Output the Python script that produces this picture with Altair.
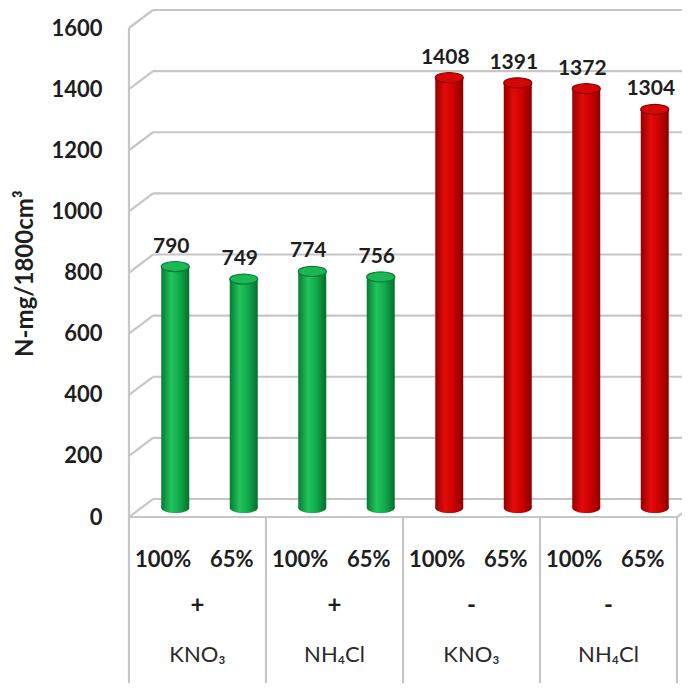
import altair as alt
import pandas as pd

# ---------------- data ----------------
bar_ids = ["b1", "b2", "b3", "b4", "b5", "b6", "b7", "b8"]
dose_labels = ["100%", "65%", "100%", "65%", "100%", "65%", "100%", "65%"]
values = [790, 749, 774, 756, 1408, 1391, 1372, 1304]
bar_group = ["green", "green", "green", "green", "red", "red", "red", "red"]
group_first = ["b1", "b3", "b5", "b7"]
signs = ["+", "+", "-", "-"]
compounds = ["KNO₃", "NH₄Cl", "KNO₃", "NH₄Cl"]
y_ticks = [0, 200, 400, 600, 800, 1000, 1200, 1400, 1600]
y_title = "N-mg/1800cm³"

bars = pd.DataFrame({"id": bar_ids, "v": values, "zero": [0] * 8,
                     "grp": bar_group, "dose": dose_labels})
groups = pd.DataFrame({"id": group_first, "sign": signs, "comp": compounds})
grid = pd.DataFrame({"v": y_ticks})
floor = pd.DataFrame({"v": [0]})
top = pd.DataFrame({"v": [1600]})
inner_bounds = pd.DataFrame({"id": ["b3", "b5", "b7"], "v": [0, 0, 0]})
end_bound = pd.DataFrame({"id": ["b8"], "v": [0]})

# ---------------- styling ----------------
W, H = 553, 673
GRID = "#c6c6c6"
FONT = "Lato"
TXT = "#1e1e1e"

yscale = alt.Scale(domain=[-543.1, 1658.9], nice=False, zero=False)
xscale = alt.Scale(domain=bar_ids, range=[0, 548], paddingInner=0, paddingOuter=0)
yaxis = alt.Axis(values=y_ticks, format="d", grid=False, domain=False, ticks=False,
                 labelPadding=27, labelFont=FONT, labelFontWeight="bold",
                 labelFontSize=22, labelColor=TXT, title=y_title,
                 titleFont=FONT, titleFontWeight="bold", titleFontSize=24,
                 titleColor=TXT, titleAngle=270, titleX=-104, titleY=263,
                 titleAlign="center", titleBaseline="middle")


def Y(field):
    return alt.Y(field, type="quantitative", scale=yscale, axis=yaxis)


def X(**kw):
    return alt.X("id:N", scale=xscale, axis=None, **kw)


def grad(stops):
    return alt.Gradient(gradient="linear", x1=0, x2=1, y1=0, y2=0,
                        stops=[alt.GradientStop(offset=o, color=c) for o, c in stops])


green_grad = grad([(0, "#077a31"), (0.35, "#22c45e"), (0.65, "#10aa4a"), (1, "#066e2c")])
red_grad = grad([(0, "#960000"), (0.35, "#e30b0b"), (0.65, "#cc0000"), (1, "#8a0000")])

ellipse = "M -1 0 A 1 0.36 0 1 0 1 0 A 1 0.36 0 1 0 -1 0 Z"
DX, DY = 12, -9

# ---------------- layers ----------------
layers = []
# back wall gridlines
layers.append(alt.Chart(grid).mark_rule(stroke=GRID, strokeWidth=2.2, yOffset=-18)
              .encode(x=alt.value(24), x2=alt.value(580), y=Y("v")))
# left wall diagonals
layers.append(alt.Chart(grid).mark_rule(stroke=GRID, strokeWidth=2.2, y2Offset=-18)
              .encode(x=alt.value(0), x2=alt.value(24), y=Y("v"), y2=alt.Y2("v")))
# floor front edge
layers.append(alt.Chart(floor).mark_rule(stroke=GRID, strokeWidth=2.2)
              .encode(x=alt.value(0), x2=alt.value(548), y=Y("v")))
# floor right diagonal
layers.append(alt.Chart(floor).mark_rule(stroke=GRID, strokeWidth=2.2, y2Offset=-18)
              .encode(x=alt.value(548), x2=alt.value(572), y=Y("v"), y2=alt.Y2("v")))
# left axis line (down through the table)
layers.append(alt.Chart(top).mark_rule(stroke=GRID, strokeWidth=2.2)
              .encode(x=alt.value(0), y=Y("v"), y2=alt.value(H)))
# table separators
layers.append(alt.Chart(inner_bounds).mark_rule(stroke=GRID, strokeWidth=2.2)
              .encode(x=X(bandPosition=0), y=Y("v"), y2=alt.value(H)))
layers.append(alt.Chart(end_bound).mark_rule(stroke=GRID, strokeWidth=2.2)
              .encode(x=X(bandPosition=1), y=Y("v"), y2=alt.value(H)))

for g, gr, topc, rim in [("green", green_grad, "#1ab855", "#0a7a33"),
                          ("red", red_grad, "#d70606", "#8e0000")]:
    base = alt.Chart(bars).transform_filter(alt.datum.grp == g)
    layers.append(base.mark_point(shape=ellipse, size=784, filled=True, fill=gr,
                                  opacity=1, strokeWidth=0, xOffset=DX, yOffset=DY)
                  .encode(x=X(), y=Y("zero")))
    layers.append(base.mark_bar(width=28, fill=gr, xOffset=DX, yOffset=DY, y2Offset=DY)
                  .encode(x=X(), y=Y("v"), y2=alt.Y2("zero")))
    layers.append(base.mark_point(shape=ellipse, size=784, filled=True, fill=topc,
                                  opacity=1, stroke=rim, strokeWidth=1.2,
                                  xOffset=DX, yOffset=DY)
                  .encode(x=X(), y=Y("v")))

# value labels
layers.append(alt.Chart(bars).mark_text(font=FONT, fontWeight="bold", fontSize=21,
                                        color=TXT, baseline="alphabetic", dy=-14,
                                        xOffset=8, yOffset=DY)
              .encode(x=X(), y=Y("v"), text="v:Q"))

# table text
layers.append(alt.Chart(bars).mark_text(font=FONT, fontWeight="bold", fontSize=22,
                                        color=TXT, baseline="middle")
              .encode(x=X(), y=alt.value(550), text="dose:N"))
layers.append(alt.Chart(groups).mark_text(font=FONT, fontWeight="bold", fontSize=24,
                                          color=TXT, baseline="middle")
              .encode(x=X(bandPosition=1), y=alt.value(596), text="sign:N"))
layers.append(alt.Chart(groups).mark_text(font=FONT, fontWeight="normal", fontSize=22,
                                          color="#2a2a2a", baseline="middle")
              .encode(x=X(bandPosition=1), y=alt.value(645), text="comp:N"))

chart = alt.layer(*layers).properties(
    width=W, height=H,
    autosize=alt.AutoSizeParams(type="none"),
    padding={"left": 121, "top": 2, "right": 0, "bottom": 0},
    background="white",
).configure_view(stroke=None)

chart.save("out.html", embed_options={"renderer": "svg", "actions": False})
